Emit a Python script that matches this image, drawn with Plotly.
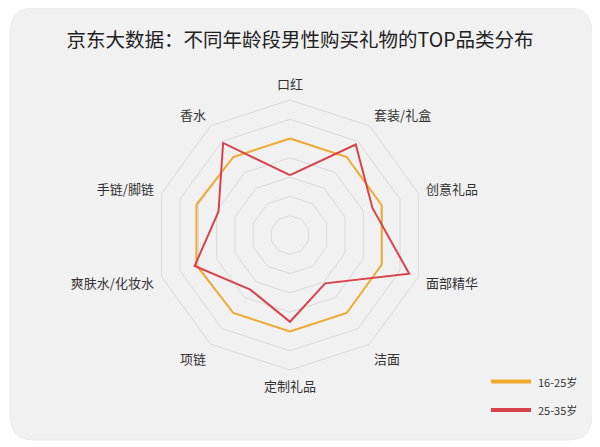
import plotly.graph_objects as go

# ---- data ----
categories = ["口红", "套装/礼盒", "创意礼品", "面部精华", "洁面",
              "定制礼品", "项链", "爽肤水/化妆水", "手链/脚链", "香水"]
series_names = ["16-25岁", "25-35岁"]
values_16_25 = [5.0, 5.0, 5.0, 5.0, 5.0, 5.0, 5.0, 5.1, 5.1, 5.0]
values_25_35 = [3.1, 5.8, 4.5, 6.5, 3.1, 4.5, 3.5, 5.2, 3.9, 5.9]
series_values = [values_16_25, values_25_35]
series_colors = ["#EFA92F", "#D8434B"]
radial_max = 7
title_text = "京东大数据：不同年龄段男性购买礼物的TOP品类分布"

# page body has an 8px margin; lay out in reference pixel coords and shift
OFF = 8
W, H = 600 - OFF, 447 - OFF
FONT = "Noto Sans CJK SC, Microsoft YaHei, sans-serif"


def px(x, y):
    return (x - OFF) / W, 1 - (y - OFF) / H


fig = go.Figure()
for name, vals, col in zip(series_names, series_values, series_colors):
    fig.add_trace(go.Scatterpolar(
        r=vals + vals[:1],
        theta=categories + categories[:1],
        mode="lines",
        name=name,
        line=dict(color=col, width=2),
        showlegend=False,
        hoverinfo="name+theta+r",
    ))

# card background (rounded rectangle)
x0, y0, x1, y1, rr = 10, 8, 592, 440, 24


def P(x, y):
    a, b = px(x, y)
    return f"{a:.5f},{b:.5f}"


path = (f"M {P(x0+rr, y0)} L {P(x1-rr, y0)} Q {P(x1, y0)} {P(x1, y0+rr)} "
        f"L {P(x1, y1-rr)} Q {P(x1, y1)} {P(x1-rr, y1)} "
        f"L {P(x0+rr, y1)} Q {P(x0, y1)} {P(x0, y1-rr)} "
        f"L {P(x0, y0+rr)} Q {P(x0, y0)} {P(x0+rr, y0)} Z")
shapes = [dict(type="path", xref="paper", yref="paper", path=path,
               fillcolor="#F1F1F1", line=dict(color="#EBEBEB", width=1), layer="below")]

# manual legend
annotations = []
leg_y = [381.5, 410]
for name, col, ly in zip(series_names, series_colors, leg_y):
    ax0, ay = px(491, ly)
    ax1, _ = px(531, ly)
    shapes.append(dict(type="line", xref="paper", yref="paper", x0=ax0, x1=ax1, y0=ay, y1=ay,
                       line=dict(color=col, width=4)))
    tx, _ = px(536, ly)
    annotations.append(dict(text=name, xref="paper", yref="paper", x=tx, y=ay,
                            xanchor="left", yanchor="middle", showarrow=False,
                            font=dict(family=FONT, size=11, color="#333333")))

cx, cy, R = 290, 235, 135
dx0, dy0 = px(cx - R, cy + R)
dx1, dy1 = px(cx + R, cy - R)
tx_, ty_ = px(300, 40)
fig.update_layout(
    width=W, height=H,
    margin=dict(l=0, r=0, t=0, b=0),
    paper_bgcolor="white",
    font=dict(family=FONT, color="#333333"),
    title=dict(text=title_text, x=tx_, xanchor="center", y=ty_, yanchor="middle",
               font=dict(family=FONT, size=19.5, color="#222222")),
    polar=dict(
        domain=dict(x=[dx0, dx1], y=[dy0, dy1]),
        bgcolor="rgba(0,0,0,0)",
        gridshape="linear",
        radialaxis=dict(range=[0, radial_max], dtick=1, tick0=0, showticklabels=False,
                        ticks="", showline=False, gridcolor="#D9D9D9", gridwidth=1),
        angularaxis=dict(rotation=90, direction="clockwise", showgrid=False,
                         showline=True, linecolor="#D9D9D9", linewidth=1,
                         ticks="outside", ticklen=5, tickcolor="rgba(0,0,0,0)",
                         tickfont=dict(family=FONT, size=13, color="#333333")),
    ),
    shapes=shapes,
    annotations=annotations,
    showlegend=False,
)

fig.write_html("out.html")
